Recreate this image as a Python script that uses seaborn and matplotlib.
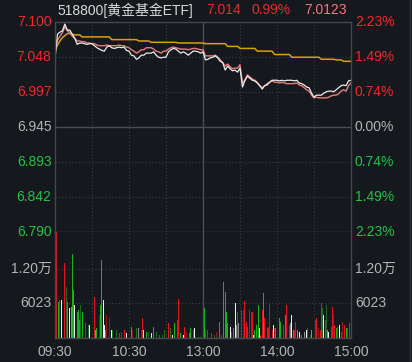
import matplotlib
matplotlib.use("Agg")
import matplotlib.pyplot as plt
import pandas as pd
import seaborn as sns

# ---------------- data ----------------
PRE_CLOSE = 6.945
price_ticks = [7.100, 7.048, 6.997, 6.945, 6.893, 6.842, 6.790]
price_tick_labels = ["7.100", "7.048", "6.997", "6.945", "6.893", "6.842", "6.790"]
pct_labels = ["2.23%", "1.49%", "0.74%", "0.00%", "0.74%", "1.49%", "2.23%"]
time_ticks = [0, 60, 120, 180, 240]
time_labels = ["09:30", "10:30", "13:00", "14:00", "15:00"]
vol_ticks = [6023, 12046]
vol_tick_labels = ["6023", "1.20万"]

price_minutes = list(range(0, 241, 2))
price = [7.045, 7.082, 7.085, 7.087, 7.097, 7.088, 7.088, 7.082, 7.076, 7.067,
         7.069, 7.069, 7.068, 7.067, 7.068, 7.068, 7.065, 7.062, 7.060, 7.058,
         7.057, 7.063, 7.065, 7.062, 7.061, 7.062, 7.063, 7.062, 7.063, 7.058,
         7.057, 7.051, 7.050, 7.045, 7.047, 7.051, 7.051, 7.054, 7.054, 7.054,
         7.056, 7.051, 7.048, 7.047, 7.048, 7.048, 7.056, 7.059, 7.061, 7.060,
         7.057, 7.054, 7.056, 7.054, 7.051, 7.054, 7.057, 7.057, 7.056, 7.054,
         7.056, 7.044, 7.045, 7.047, 7.048, 7.050, 7.047, 7.042, 7.040, 7.029,
         7.035, 7.031, 7.028, 7.029, 7.026, 7.032, 7.004, 7.014, 7.020, 7.017,
         7.014, 7.013, 7.010, 7.006, 7.001, 7.006, 7.007, 7.011, 7.014, 7.014,
         7.014, 7.013, 7.014, 7.013, 7.014, 7.014, 7.014, 7.013, 7.014, 7.010,
         7.009, 7.007, 7.004, 7.003, 6.995, 6.989, 6.992, 6.992, 6.992, 6.995,
         6.997, 6.998, 6.998, 6.997, 7.000, 7.003, 7.006, 7.007, 7.006, 7.013,
         7.014]
iopv = [7.062, 7.073, 7.079, 7.084, 7.093, 7.087, 7.084, 7.079, 7.076, 7.072,
        7.072, 7.071, 7.071, 7.069, 7.069, 7.068, 7.068, 7.066, 7.065, 7.065,
        7.065, 7.066, 7.065, 7.065, 7.065, 7.065, 7.066, 7.065, 7.065, 7.063,
        7.062, 7.059, 7.057, 7.054, 7.056, 7.059, 7.059, 7.062, 7.062, 7.062,
        7.060, 7.057, 7.056, 7.054, 7.057, 7.057, 7.060, 7.062, 7.063, 7.062,
        7.061, 7.060, 7.060, 7.060, 7.059, 7.060, 7.061, 7.061, 7.060, 7.059,
        7.059, 7.050, 7.050, 7.050, 7.050, 7.051, 7.048, 7.044, 7.040, 7.035,
        7.038, 7.034, 7.031, 7.032, 7.032, 7.037, 7.010, 7.014, 7.022, 7.019,
        7.016, 7.014, 7.011, 7.006, 7.003, 7.006, 7.009, 7.011, 7.013, 7.011,
        7.011, 7.010, 7.011, 7.010, 7.009, 7.009, 7.009, 7.009, 7.010, 7.007,
        7.006, 7.003, 7.000, 6.998, 6.992, 6.988, 6.989, 6.988, 6.988, 6.988,
        6.988, 6.989, 6.991, 6.992, 6.992, 6.994, 6.998, 7.000, 6.998, 7.006,
        7.010]
avg_price = ([7.057, 7.066, 7.072, 7.077, 7.080, 7.083, 7.083, 7.082, 7.081, 7.081, 7.081]
             + [7.078] * 12 + [7.074] * 11 + [7.072] * 5 + [7.070] * 11 + [7.069] * 11
             + [7.068] * 9 + [7.064] * 5 + [7.061] * 7 + [7.057] * 7 + [7.052] * 7
             + [7.048] * 12 + [7.045] * 6 + [7.044] * 3 + [7.042] * 4)

vol_minute = [0, 1, 3, 4, 5, 8, 9, 10, 12, 13, 14, 15, 16, 18, 19, 20, 21, 22, 25, 27,
              28, 30, 32, 33, 34, 36, 37, 38, 39, 40, 41, 42, 44, 46, 47, 50, 52, 54, 56, 58,
              60, 62, 63, 66, 68, 70, 71, 72, 74, 76, 78, 80, 82, 85, 87, 89, 90, 92, 94, 95,
              97, 99, 100, 102, 104, 105, 107, 109, 110, 112, 113, 114, 116, 118, 121, 122, 124, 127, 129, 131,
              133, 135, 137, 138, 139, 140, 142, 143, 145, 146, 147, 148, 149, 150, 151, 153, 154, 155, 156, 158,
              159, 160, 161, 162, 163, 165, 166, 167, 168, 169, 170, 172, 173, 174, 176, 177, 178, 179, 180, 182,
              183, 185, 187, 188, 190, 191, 192, 193, 194, 195, 197, 198, 200, 202, 204, 205, 207, 208, 210, 211,
              212, 214, 215, 216, 217, 218, 219, 220, 221, 222, 224, 225, 226, 227, 228, 229, 231, 232, 233, 235,
              236, 237, 239]
vol_value = [9250, 18500, 6340, 6635, 6635, 13040, 8960, 6340, 5180, 5470, 14670, 8380, 5760, 4600, 4890, 3140, 5760, 4600, 2560, 2270,
             2270, 2560, 7220, 1400, 1690, 4020, 5760, 13620, 6635, 2270, 1400, 4020, 3725, 1400, 1400, 1400, 815, 1110, 1400, 815,
             2560, 1980, 1400, 1690, 1690, 1400, 3430, 1400, 1110, 1110, 815, 1980, 1110, 520, 520, 1400, 4600, 2560, 1690, 520,
             2560, 3140, 6750, 815, 520, 1980, 1110, 815, 1690, 1400, 1690, 175, 175, 175, 5180, 1400, 1400, 815, 520, 1110,
             2850, 520, 9840, 8090, 4600, 2560, 1980, 1110, 1690, 6170, 2270, 4600, 2560, 4020, 4890, 4890, 6460, 2850, 1980, 4890,
             4600, 4600, 520, 1400, 2270, 5760, 1690, 520, 4890, 7910, 3430, 1690, 1980, 6050, 1400, 2270, 1690, 1690, 3725, 3430,
             2850, 2270, 4020, 5760, 2270, 2560, 4020, 1400, 1400, 2850, 1400, 1110, 520, 1110, 1400, 1690, 520, 1400, 1570, 3140,
             3430, 1690, 1400, 6050, 5180, 4020, 3140, 5760, 1400, 1110, 1980, 5470, 4310, 2270, 1690, 1980, 2270, 1110, 2850, 2270,
             1690, 1690, 2560]
vol_kind = ['r', 'r', 'g', 'r', 'w', 'r', 'dg', 'g', 'w', 'gr', 'g', 'g', 'w', 'g', 'g', 'g', 'dg', 'g', 'r', 'dg',
            'w', 'g', 'r', 'gr', 'g', 'dr', 'g', 'g', 'w', 'w', 'g', 'dr', 'dr', 'w', 'dg', 'dg', 'r', 'dg', 'r', 'w',
            'dg', 'g', 'dr', 'dg', 'gr', 'dr', 'r', 'w', 'g', 'dg', 'w', 'g', 'dg', 'r', 'dg', 'dg', 'r', 'r', 'dg', 'w',
            'g', 'r', 'r', 'g', 'w', 'r', 'dr', 'g', 'g', 'r', 'w', 'g', 'g', 'dg', 'g', 'r', 'r', 'r', 'dg', 'dr',
            'g', 'dg', 'g', 'g', 'g', 'g', 'w', 'dg', 'g', 'w', 'gr', 'r', 'gr', 'w', 'dg', 'dr', 'r', 'r', 'r', 'dg',
            'dg', 'r', 'w', 'g', 'g', 'g', 'w', 'r', 'r', 'g', 'r', 'r', 'r', 'dg', 'r', 'w', 'dr', 'g', 'dr', 'g',
            'g', 'r', 'g', 'r', 'r', 'gr', 'w', 'g', 'r', 'r', 'gr', 'w', 'g', 'gr', 'w', 'r', 'dg', 'gr', 'w', 'dg',
            'r', 'dr', 'r', 'r', 'dg', 'w', 'r', 'dg', 'gr', 'w', 'r', 'r', 'dr', 'r', 'g', 'r', 'w', 'r', 'dr', 'r',
            'g', 'r', 'r']

# ---------------- style ----------------
BG = "#15181d"
GRID = "#3a3d43"
RED = "#f2262e"
GREEN = "#1fc24a"
GRAY = "#b4b4b4"
palette = {'r': '#e5141c', 'dr': '#8a1a1e', 'g': '#15b41c', 'dg': '#1d6a22',
           'w': '#f0f0f0', 'gr': '#8c8c8c'}

sns.set_style("dark", {"axes.facecolor": BG, "figure.facecolor": BG})
plt.rcParams['font.family'] = ['Liberation Sans', 'Noto Sans CJK SC', 'DejaVu Sans']

W, H = 412, 362
fig = plt.figure(figsize=(W / 100, H / 100), dpi=100)
fig.patch.set_facecolor(BG)

L, R = 55, 351
ax = fig.add_axes([L / W, 1 - 232 / H, (R - L) / W, 210 / H])
axv = fig.add_axes([L / W, 1 - 338 / H, (R - L) / W, 106 / H])

df_p = pd.DataFrame({"minute": price_minutes, "price": price, "iopv": iopv, "avg": avg_price})
sns.lineplot(data=df_p, x="minute", y="avg", ax=ax, color="#d9a106", lw=1.1)
sns.lineplot(data=df_p, x="minute", y="iopv", ax=ax, color="#e27d7d", lw=1.0)
sns.lineplot(data=df_p, x="minute", y="price", ax=ax, color="#ececec", lw=0.9)

df_v = pd.DataFrame({"minute": vol_minute, "vol": vol_value, "kind": vol_kind})
sns.barplot(data=df_v, x="minute", y="vol", hue="kind", palette=palette, dodge=False,
            native_scale=True, errorbar=None, legend=False, ax=axv, width=0.8,
            linewidth=0, saturation=1)

for a in (ax, axv):
    a.set_facecolor(BG)
    a.set_xlim(0, 240)
    a.set_xlabel("")
    a.set_ylabel("")
    a.set_xticks([])
    a.set_yticks([])
    a.grid(False)
    for s in a.spines.values():
        s.set_color("#44474d")
        s.set_linewidth(1.0)
        s.set_visible(True)
    for m in (30, 60, 90, 150, 180, 210):
        a.axvline(m, color=GRID, lw=0.8, ls=(0, (1, 2)), zorder=0)
    a.axvline(120, color="#4a4d52", lw=1.0, zorder=0)

ax.set_ylim(6.790, 7.100)
for t in (7.048, 6.997, 6.893, 6.842):
    ax.axhline(t, color=GRID, lw=0.8, ls=(0, (1, 2)), zorder=0)
ax.axhline(PRE_CLOSE, color="#4a4d52", lw=1.0, zorder=0)

axv.set_ylim(0, 18505)
for t in vol_ticks:
    axv.axhline(t, color=GRID, lw=0.8, ls=(0, (1, 2)), zorder=0)
axv.spines['top'].set_visible(False)

# left / right price labels
for i, (t, lab, pl) in enumerate(zip(price_ticks, price_tick_labels, pct_labels)):
    c = RED if i < 3 else (GRAY if i == 3 else GREEN)
    ax.text(-0.012, t, lab, transform=ax.get_yaxis_transform(), ha="right", va="center",
            color=c, fontsize=10, clip_on=False)
    ax.text(1.013, t, pl, transform=ax.get_yaxis_transform(), ha="left", va="center",
            color=c, fontsize=10, clip_on=False)

for t, lab in zip(vol_ticks, vol_tick_labels):
    axv.text(-0.012, t, lab, transform=axv.get_yaxis_transform(), ha="right", va="center",
             color=GRAY, fontsize=10, clip_on=False)
    axv.text(1.013, t, lab, transform=axv.get_yaxis_transform(), ha="left", va="center",
             color=GRAY, fontsize=10, clip_on=False)

for t, lab in zip(time_ticks, time_labels):
    axv.text(t, -0.13, lab, transform=axv.get_xaxis_transform(), ha="center", va="center",
             color=GRAY, fontsize=10, clip_on=False)

# header
fig.text(57 / W, 1 - 10 / H, "518800[黄金基金ETF]", color="#d8d8d8", fontsize=10, va="center", ha="left")
fig.text(206 / W, 1 - 10 / H, "7.014", color=RED, fontsize=10, va="center", ha="left")
fig.text(252 / W, 1 - 10 / H, "0.99%", color=RED, fontsize=10, va="center", ha="left")
fig.text(304 / W, 1 - 10 / H, "7.0123", color="#f07a7a", fontsize=10, va="center", ha="left")

# right frame edge
fig.add_artist(plt.Line2D([410 / W, 410 / W], [0, 1], color="#2c2f35", lw=1.0))

fig.savefig("out.png", dpi=100, facecolor=BG)
